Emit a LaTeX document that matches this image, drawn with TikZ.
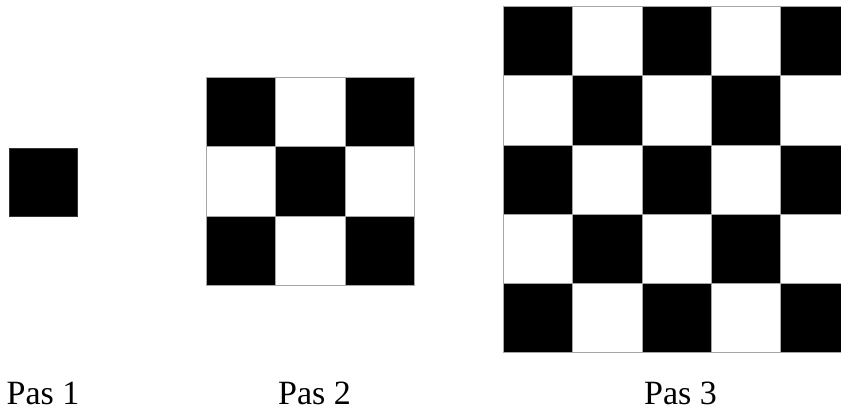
\documentclass[tikz,border=0pt]{standalone}
\usepackage{fontspec}
\setmainfont{Liberation Serif}

\tikzset{
  cellline/.style={draw=gray!70, line width=0.8pt},
  steplabel/.style={anchor=base west, inner sep=0pt, font=\fontsize{34}{40}\selectfont},
}

\begin{document}
\begin{tikzpicture}[x=1pt,y=1pt]
  \useasboundingbox (0,0) rectangle (841,412);
  \clip (0,0) rectangle (841,412);

  % Pas 1
  \filldraw[fill=black, draw=black!80, line width=0.8pt] (9,196) rectangle (77.5,264);

  % Pas 2
  \begin{scope}[shift={(206,335)}]
    \foreach \i in {0,...,2} \foreach \j in {0,...,2} {
      \pgfmathtruncatemacro\sumij{\i+\j}
      \ifodd\sumij \def\cellcol{white}\else\def\cellcol{black}\fi
      \filldraw[fill=\cellcol, cellline] (\i*69.5,-\j*69.5) rectangle ++(69.5,-69.5);
    }
  \end{scope}

  % Pas 3
  \begin{scope}[shift={(503.5,405.3)}]
    \foreach \i in {0,...,4} \foreach \j in {0,...,4} {
      \pgfmathtruncatemacro\sumij{\i+\j}
      \ifodd\sumij \def\cellcol{white}\else\def\cellcol{black}\fi
      \filldraw[fill=\cellcol, cellline] (\i*69.2,-\j*69.2) rectangle ++(69.2,-69.2);
    }
  \end{scope}

  \node[steplabel] (pas1) at (6.5,7) {Pas 1};
  \node[steplabel] (pas2) at (278,7) {Pas 2};
  \node[steplabel] (pas3) at (644,7) {Pas 3};
\end{tikzpicture}
\end{document}
